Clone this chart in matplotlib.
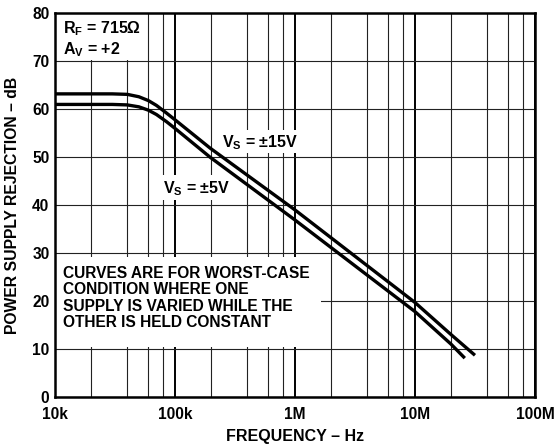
import numpy as np
import matplotlib
matplotlib.use('Agg')
import matplotlib.pyplot as plt
from matplotlib.ticker import LogLocator, FixedLocator, NullFormatter
from matplotlib.patches import Rectangle

plt.rcParams['font.family'] = ['Liberation Sans', 'DejaVu Sans']
plt.rcParams['font.weight'] = 'bold'
plt.rcParams['mathtext.fontset'] = 'custom'
plt.rcParams['mathtext.rm'] = 'Liberation Sans:bold'
plt.rcParams['mathtext.bf'] = 'Liberation Sans:bold'
plt.rcParams['mathtext.it'] = 'Liberation Sans:bold'
plt.rcParams['mathtext.default'] = 'bf'

# curve data (Hz, dB)
freq_15v = [1e4, 3e4, 4e4, 5e4, 6e4, 7e4, 8.5e4, 1e5, 1.96e5, 1e6, 1e7, 2e7, 3.16e7]
psr_15v = [63.2, 63.2, 63.1, 62.6, 61.8, 60.8, 59.2, 57.8, 51.9, 39.0, 19.7, 13.0, 8.7]

freq_5v = [1e4, 3e4, 4e4, 5e4, 6e4, 7e4, 8.5e4, 1e5, 1.96e5, 1e6, 1e7, 2e7, 2.6e7]
psr_5v = [61.0, 61.0, 60.9, 60.5, 59.8, 58.9, 57.4, 56.0, 50.0, 36.9, 17.8, 11.0, 8.1]

xticks = [1e4, 1e5, 1e6, 1e7, 1e8]
xtick_labels = ['10k', '100k', '1M', '10M', '100M']
yticks = [0, 10, 20, 30, 40, 50, 60, 70, 80]

fig = plt.figure(figsize=(5.56, 4.48), dpi=100)
ax = fig.add_axes([55/556, 51/448, 480/556, 383.7/448])

ax.set_xscale('log')
ax.set_xlim(1e4, 1e8)
ax.set_ylim(0, 80)

ax.xaxis.set_major_locator(FixedLocator(xticks))
ax.set_xticklabels(xtick_labels)
ax.xaxis.set_minor_locator(LogLocator(base=10, subs=[2, 4, 6, 8]))
ax.xaxis.set_minor_formatter(NullFormatter())
ax.set_yticks(yticks)

ax.set_axisbelow(True)
ax.grid(which='major', axis='x', color='black', lw=1.4)
ax.grid(which='minor', axis='x', color='#222222', lw=0.8)
ax.grid(which='major', axis='y', color='#222222', lw=0.8)
ax.tick_params(which='both', length=0, labelsize=11.2)
ax.tick_params(axis='x', pad=7.5)
ax.tick_params(axis='y', pad=4)
for s in ax.spines.values():
    s.set_linewidth(1.8)
    s.set_zorder(5)

# white areas behind the notes, grid lines stop there
masks = [(0.0, 0.878, 0.19, 0.122),
         (0.333, 0.636, 0.173, 0.06),
         (0.219, 0.513, 0.158, 0.066),
         (0.0, 0.13, 0.554, 0.235)]
for x0, y0, w, h in masks:
    ax.add_patch(Rectangle((x0, y0), w, h, transform=ax.transAxes,
                           facecolor='white', edgecolor='none', zorder=1))

ax.plot(freq_15v, psr_15v, color='black', lw=2.4, solid_capstyle='butt', zorder=3)
ax.plot(freq_5v, psr_5v, color='black', lw=2.4, solid_capstyle='butt', zorder=3)

ax.text(0.0167, 0.948, r'R$_{F}$ = 715Ω', transform=ax.transAxes, fontsize=11.5,
        va='baseline', zorder=4)
ax.text(0.0167, 0.893, r'A$_{V}$ = +2', transform=ax.transAxes, fontsize=11.5,
        va='baseline', zorder=4)
ax.text(0.347, 0.652, r'V$_{S}$ = ±15V', transform=ax.transAxes, fontsize=11.5,
        va='baseline', zorder=4)
ax.text(0.226, 0.532, r'V$_{S}$ = ±5V', transform=ax.transAxes, fontsize=11.5,
        va='baseline', zorder=4)
ax.text(0.0167, 0.342,
        'CURVES ARE FOR WORST-CASE\nCONDITION WHERE ONE\n'
        'SUPPLY IS VARIED WHILE THE\nOTHER IS HELD CONSTANT',
        transform=ax.transAxes, fontsize=11.2, va='top', linespacing=1.12, zorder=4)

ax.set_xlabel('FREQUENCY – Hz', fontsize=11.5, fontweight='bold')
ax.set_ylabel('POWER SUPPLY REJECTION – dB', fontsize=11.3, fontweight='bold')
ax.xaxis.set_label_coords(0.5, -0.104)
ax.xaxis.label.set_va('center')
ax.yaxis.set_label_coords(-0.088, 0.5)
ax.yaxis.label.set_va('center')

fig.savefig('out.png', dpi=100)
